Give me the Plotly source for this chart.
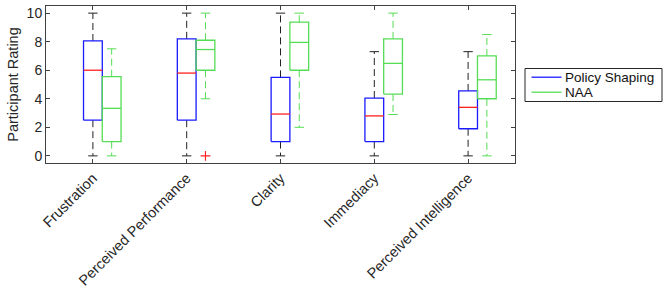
import numpy as np
import plotly.graph_objects as go

categories = ["Frustration", "Perceived Performance", "Clarity", "Immediacy", "Perceived Intelligence"]

# Policy Shaping: whisker low, q1, median, q3, whisker high
ps_low = [0, 0, 0, 0, 0]
ps_q1 = [2.5, 2.5, 1.0, 1.0, 1.9]
ps_med = [6.0, 5.8, 2.93, 2.8, 3.4]
ps_q3 = [8.05, 8.2, 5.5, 4.05, 4.55]
ps_high = [10, 10, 10, 7.3, 7.3]

# NAA
naa_low = [0, 4.0, 2.0, 2.9, 0]
naa_q1 = [1.0, 6.0, 6.0, 4.33, 4.0]
naa_med = [3.33, 7.45, 7.95, 6.48, 5.33]
naa_q3 = [5.55, 8.1, 9.37, 8.2, 7.0]
naa_high = [7.5, 10, 10, 10, 8.5]

# outliers (category index, value)
naa_out_cat = [1]
naa_out_val = [0]

series_names = ["Policy Shaping", "NAA"]
series_colors = ["#1a1aff", "#55dd55"]

box_w = 0.2
cap_w = 0.1
font = "Liberation Sans, Arial, sans-serif"
W, H = 665, 295
M = dict(l=46, r=150, t=6, b=132)


def segs(xs0, xs1, ys0, ys1):
    x, y = [], []
    for a, b, c, d in zip(xs0, xs1, ys0, ys1):
        x += [a, b, None]
        y += [c, d, None]
    return x, y


def add_series(fig, pos, low, q1, med, q3, high, box_col, med_col, wh_col):
    pos = np.asarray(pos, dtype=float)
    # whiskers (dashed)
    wx, wy = segs(list(pos) + list(pos), list(pos) + list(pos), q3 + q1, high + low)
    fig.add_trace(go.Scatter(x=wx, y=wy, mode="lines", hoverinfo="skip",
                             line=dict(color=wh_col, width=1, dash="7px,4px")))
    # caps
    cx, cy = segs(list(pos - cap_w / 2) * 2, list(pos + cap_w / 2) * 2, high + low, high + low)
    fig.add_trace(go.Scatter(x=cx, y=cy, mode="lines", hoverinfo="skip",
                             line=dict(color=wh_col, width=1)))
    # boxes
    bx, by = [], []
    for p, a, b in zip(pos, q1, q3):
        bx += [p - box_w / 2, p + box_w / 2, p + box_w / 2, p - box_w / 2, p - box_w / 2, None]
        by += [a, a, b, b, a, None]
    fig.add_trace(go.Scatter(x=bx, y=by, mode="lines", hoverinfo="skip",
                             line=dict(color=box_col, width=1.3)))
    # medians
    mx, my = segs(list(pos - box_w / 2), list(pos + box_w / 2), med, med)
    fig.add_trace(go.Scatter(x=mx, y=my, mode="lines", hoverinfo="skip",
                             line=dict(color=med_col, width=1.3)))


fig = go.Figure()
pos_ps = np.arange(1, len(categories) + 1)
pos_naa = pos_ps + 0.2

add_series(fig, pos_ps, ps_low, ps_q1, ps_med, ps_q3, ps_high,
           series_colors[0], "#ff2020", "#222222")
add_series(fig, pos_naa, naa_low, naa_q1, naa_med, naa_q3, naa_high,
           series_colors[1], series_colors[1], series_colors[1])

fig.add_trace(go.Scatter(x=[pos_naa[i] for i in naa_out_cat], y=naa_out_val, mode="markers",
                         hoverinfo="skip",
                         marker=dict(symbol="cross-thin", size=7, line=dict(color="#ff2020", width=1.2))))

# legend drawn by hand (matlab style: compact box right of the axes)
pw = W - M["l"] - M["r"]
ph = H - M["t"] - M["b"]


def px(x):
    return (x - M["l"]) / pw


def py(y):
    return (H - M["b"] - y) / ph


fig.add_shape(type="rect", xref="paper", yref="paper", x0=px(525), x1=px(662), y0=py(101.5), y1=py(68.5),
              line=dict(color="#262626", width=1), fillcolor="white")
for i, (name, col) in enumerate(zip(series_names, series_colors)):
    yy = 77.2 + i * 15
    fig.add_shape(type="line", xref="paper", yref="paper", x0=px(531.5), x1=px(561.5),
                  y0=py(yy), y1=py(yy), line=dict(color=col, width=1.3))
    fig.add_annotation(xref="paper", yref="paper", x=px(564), y=py(yy), text=name, showarrow=False,
                       xanchor="left", yanchor="middle", borderpad=0,
                       font=dict(family=font, size=13.5, color="#111111"))

axis_common = dict(showline=True, linecolor="#404040", linewidth=1, mirror="ticks",
                   ticks="inside", ticklen=4, tickcolor="#404040", showgrid=False, zeroline=False,
                   automargin=False)

fig.update_layout(
    width=W, height=H,
    margin=M,
    showlegend=False,
    paper_bgcolor="white", plot_bgcolor="white",
    font=dict(family=font, size=14, color="#262626"),
    xaxis=dict(range=[0.5, 5.5], tickvals=list(pos_ps), ticktext=categories, tickangle=-45,
               tickfont=dict(family=font, size=14.5, color="#262626"), **axis_common),
    yaxis=dict(range=[-0.5, 10.5], tickvals=[0, 2, 4, 6, 8, 10],
               tickfont=dict(family=font, size=14, color="#262626"),
               title=dict(text="Participant Rating", font=dict(family=font, size=14.5), standoff=4),
               **axis_common),
)

fig.write_html("out.html", config={"displayModeBar": False},
               post_script="document.body.style.margin='0';")
